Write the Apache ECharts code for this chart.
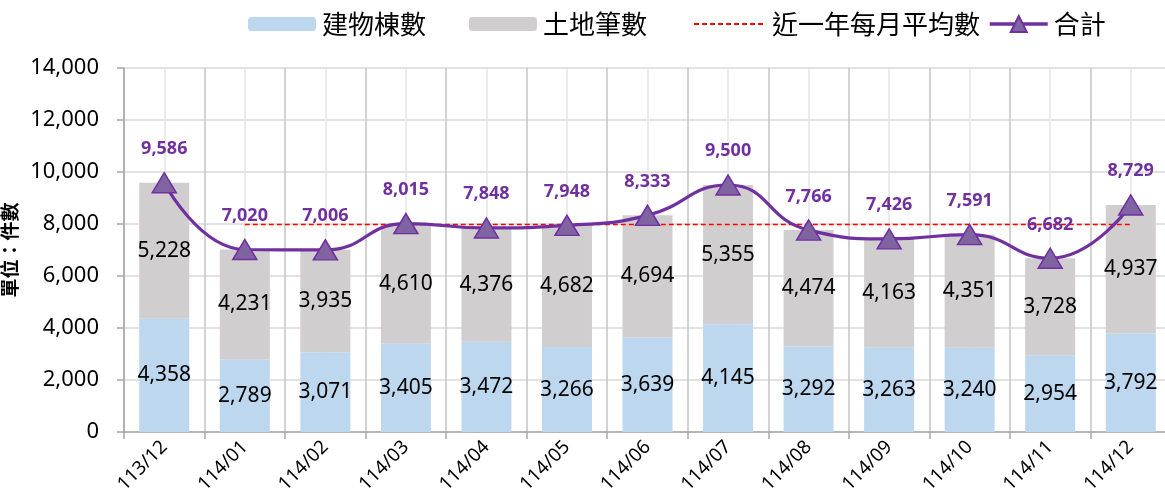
<!DOCTYPE html>
<html>
<head>
<meta charset="utf-8">
<script src="https://cdn.jsdelivr.net/npm/echarts@6/dist/echarts.min.js"></script>
<style>
html,body{margin:0;padding:0;background:#fff;}
#chart{width:1165px;height:498px;}
</style>
</head>
<body>
<div id="chart"></div>
<script>
const categories = ['113/12','114/01','114/02','114/03','114/04','114/05','114/06','114/07','114/08','114/09','114/10','114/11','114/12'];
const buildingCounts = [4358, 2789, 3071, 3405, 3472, 3266, 3639, 4145, 3292, 3263, 3240, 2954, 3792];
const landCounts = [5228, 4231, 3935, 4610, 4376, 4682, 4694, 5355, 4474, 4163, 4351, 3728, 4937];
const totals = [9586, 7020, 7006, 8015, 7848, 7948, 8333, 9500, 7766, 7426, 7591, 6682, 8729];
const monthlyAverage = [null, 7980, 7980, 7980, 7980, 7980, 7980, 7980, 7980, 7980, 7980, 7980, 7980];
const yTicks = {min: 0, max: 14000, interval: 2000};

const FONT = "'Noto Sans', 'Noto Sans CJK TC', sans-serif";
const CJK = "'Noto Sans CJK TC', sans-serif";
const fmt = v => Number(v).toLocaleString('en-US');

const chart = echarts.init(document.getElementById('chart'), null, {renderer: 'canvas'});

function legendAt(left, name, w, h, extra) {
  return Object.assign({
    left: left, top: 11, itemWidth: w, itemHeight: h, itemGap: 0, padding: 0,
    data: [name], selectedMode: false,
    textStyle: {fontFamily: CJK, fontSize: 26, color: '#000', padding: [0,0,0,1]}
  }, extra || {});
}

chart.setOption({
  animation: false,
  textStyle: {fontFamily: FONT},
  legend: [
    legendAt(248, '建物棟數', 68, 14),
    legendAt(469, '土地筆數', 68, 14),
    legendAt(693, '近一年每月平均數', 72, 14, {itemStyle: {color: 'rgba(0,0,0,0)', borderColor: 'rgba(0,0,0,0)', borderWidth: 0}}),
    legendAt(988, '合計', 58, 20, {lineStyle: {width: 3.5}})
  ],
  grid: {left: 124, top: 68, width: 1047, height: 364, containLabel: false, outerBoundsMode: 'none'},
  xAxis: {
    type: 'category',
    data: categories,
    boundaryGap: true,
    axisLine: {show: true, lineStyle: {color: '#A6A6A6', width: 1.5}},
    axisTick: {show: true, length: 7, lineStyle: {color: '#A6A6A6', width: 1.5}},
    splitLine: {show: true, lineStyle: {color: '#C4C4C4', width: 1.5}},
    axisLabel: {rotate: 45, fontSize: 19, color: '#000', margin: 12, fontFamily: FONT}
  },
  yAxis: {
    type: 'value',
    min: yTicks.min, max: yTicks.max, interval: yTicks.interval,
    name: '單位：件數',
    nameLocation: 'middle',
    nameGap: 96,
    nameRotate: 90,
    nameTextStyle: {fontFamily: CJK, fontSize: 19, fontWeight: 'bold', color: '#000'},
    axisLine: {show: true, lineStyle: {color: '#A6A6A6', width: 1.5}},
    axisTick: {show: true, inside: false, length: 7, lineStyle: {color: '#A6A6A6', width: 1.5}},
    splitLine: {show: true, lineStyle: {color: '#D9D9D9', width: 1.5}},
    axisLabel: {fontSize: 22, color: '#000', margin: 25, formatter: v => fmt(v), fontFamily: FONT}
  },
  series: [
    {
      name: 'centerLines',
      type: 'line',
      data: categories.map(() => null),
      z: 1,
      silent: true,
      showSymbol: false,
      markLine: {
        silent: true,
        z: 1,
        symbol: 'none',
        label: {show: false},
        lineStyle: {color: '#E4E4E4', width: 1.5, type: 'solid'},
        data: categories.map(c => ({xAxis: c}))
      }
    },
    {
      name: '建物棟數',
      type: 'bar',
      stack: 'total',
      barWidth: 50,
      z: 2,
      data: buildingCounts,
      itemStyle: {color: '#BDD7EE'},
      label: {show: true, position: 'inside', color: '#000', fontSize: 21, formatter: p => fmt(p.value), fontFamily: FONT}
    },
    {
      name: '土地筆數',
      type: 'bar',
      stack: 'total',
      barWidth: 50,
      z: 2,
      data: landCounts,
      itemStyle: {color: '#D0CECE'},
      label: {show: true, position: 'inside', color: '#000', fontSize: 21, formatter: p => fmt(p.value), fontFamily: FONT}
    },
    {
      name: '近一年每月平均數',
      type: 'line',
      z: 3,
      data: monthlyAverage,
      symbol: 'none',
      showSymbol: false,
      lineStyle: {color: '#FF0000', width: 1.5, type: [5, 3]},
      itemStyle: {color: '#FF0000'}
    },
    {
      name: '合計',
      type: 'line',
      z: 4,
      data: totals,
      smooth: 0.5,
      symbol: 'triangle',
      symbolSize: [24, 20],
      lineStyle: {color: '#7030A0', width: 3.2},
      itemStyle: {color: '#8064A2', borderColor: '#7030A0', borderWidth: 1.5},
      label: {show: true, position: 'top', distance: 14, color: '#7030A0', fontWeight: 'bold', fontSize: 18, formatter: p => fmt(p.value), fontFamily: FONT}
    }
  ]
});
</script>
</body>
</html>
